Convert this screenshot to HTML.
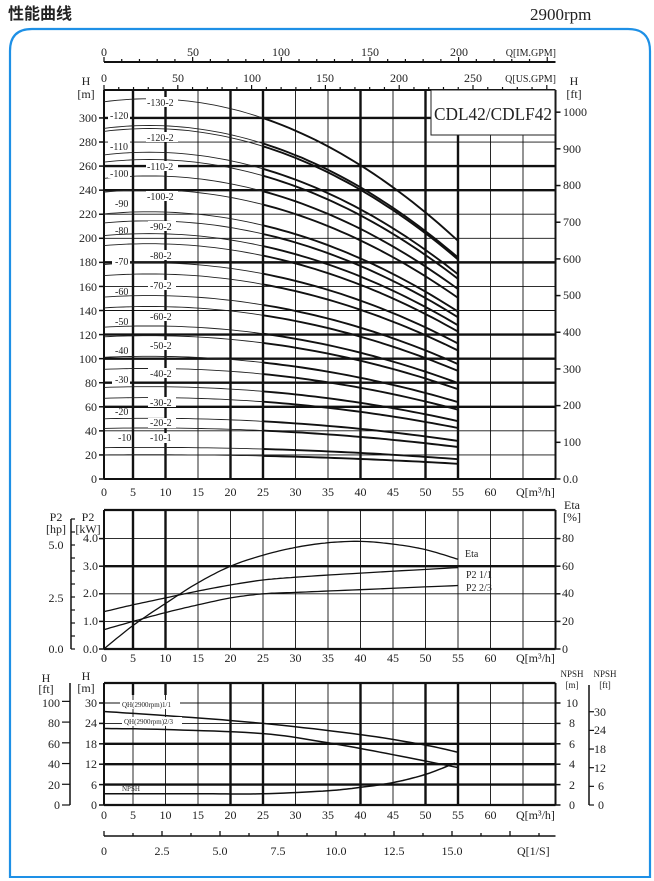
<!DOCTYPE html>
<html><head><meta charset="utf-8"><style>
html,body{margin:0;padding:0;background:#fff;width:654px;height:881px;overflow:hidden}
svg{display:block}
text{font-family:"Liberation Serif",serif;fill:#222}
</style></head><body>
<svg id="s" width="654" height="881" viewBox="0 0 654 881" xmlns="http://www.w3.org/2000/svg">
<path d="M10,878 L10,51 Q10,29 32,29 L628,29 Q650,29 650,51 L650,878" fill="none" stroke="#1e90e6" stroke-width="2.2"/>
<line x1="10" y1="877" x2="650" y2="877" stroke="#1e90e6" stroke-width="2"/>
<text x="8" y="19" style="font-family:'Noto Sans CJK SC',sans-serif;font-weight:bold;font-size:16px" fill="#111">性能曲线</text>
<text x="530" y="20" style="font-size:17px">2900rpm</text>
<g id="grid"></g>
<g id="curves"></g>
<g id="lbl" font-size="10">
<rect x="108" y="110" width="22" height="10" fill="#fff"/><text x="110" y="119">-120</text>
<rect x="108" y="141" width="22" height="10" fill="#fff"/><text x="110" y="150">-110</text>
<rect x="108" y="168" width="22" height="10" fill="#fff"/><text x="110" y="177">-100</text>
<text x="115" y="207">-90</text><text x="115" y="234">-80</text>
<rect x="112" y="256" width="18" height="10" fill="#fff"/><text x="115" y="265">-70</text>
<text x="115" y="295">-60</text><text x="115" y="325">-50</text><text x="115" y="354">-40</text>
<rect x="112" y="375" width="18" height="10" fill="#fff"/><text x="115" y="383">-30</text>
<text x="115" y="415">-20</text><text x="118" y="441">-10</text>
<rect x="146" y="97" width="32" height="10" fill="#fff"/><text x="147" y="106">-130-2</text>
<rect x="146" y="132" width="32" height="10" fill="#fff"/><text x="147" y="141">-120-2</text>
<rect x="146" y="161" width="32" height="10" fill="#fff"/><text x="147" y="170">-110-2</text>
<rect x="146" y="191" width="32" height="10" fill="#fff"/><text x="147" y="200">-100-2</text>
<rect x="148" y="221" width="28" height="10" fill="#fff"/><text x="150" y="230">-90-2</text>
<rect x="148" y="250" width="28" height="10" fill="#fff"/><text x="150" y="259">-80-2</text>
<rect x="148" y="280" width="28" height="10" fill="#fff"/><text x="150" y="289">-70-2</text>
<rect x="148" y="311" width="28" height="10" fill="#fff"/><text x="150" y="320">-60-2</text>
<rect x="148" y="340" width="28" height="10" fill="#fff"/><text x="150" y="349">-50-2</text>
<rect x="148" y="368" width="28" height="10" fill="#fff"/><text x="150" y="377">-40-2</text>
<rect x="148" y="397" width="28" height="10" fill="#fff"/><text x="150" y="406">-30-2</text>
<rect x="148" y="418" width="28" height="10" fill="#fff"/><text x="150" y="426">-20-2</text>
<rect x="148" y="433" width="28" height="10" fill="#fff"/><text x="150" y="441">-10-1</text>
</g>
<rect x="431" y="90" width="124" height="45" fill="#fff" stroke="#222" stroke-width="1"/>
<text x="434" y="120" style="font-size:18px" textLength="118" lengthAdjust="spacingAndGlyphs">CDL42/CDLF42</text>
<g font-size="12">
<text x="104" y="56" text-anchor="middle">0</text><text x="193" y="56" text-anchor="middle">50</text><text x="281" y="56" text-anchor="middle">100</text><text x="370" y="56" text-anchor="middle">150</text><text x="459" y="56" text-anchor="middle">200</text>
<text x="556" y="56" text-anchor="end" font-size="10">Q[IM.GPM]</text>
<text x="104" y="82" text-anchor="middle">0</text><text x="178" y="82" text-anchor="middle">50</text><text x="252" y="82" text-anchor="middle">100</text><text x="325" y="82" text-anchor="middle">150</text><text x="399" y="82" text-anchor="middle">200</text><text x="473" y="82" text-anchor="middle">250</text>
<text x="556" y="82" text-anchor="end" font-size="10">Q[US.GPM]</text>
<text x="86" y="85" text-anchor="middle">H</text><text x="86" y="98" text-anchor="middle">[m]</text>
<text x="574" y="85" text-anchor="middle">H</text><text x="574" y="98" text-anchor="middle">[ft]</text>
<g text-anchor="end">
<text x="97" y="483">0</text><text x="97" y="459">20</text><text x="97" y="435">40</text><text x="97" y="411">60</text><text x="97" y="387">80</text><text x="97" y="363">100</text><text x="97" y="339">120</text><text x="97" y="315">140</text><text x="97" y="291">160</text><text x="97" y="266">180</text><text x="97" y="242">200</text><text x="97" y="218">220</text><text x="97" y="194">240</text><text x="97" y="170">260</text><text x="97" y="146">280</text><text x="97" y="122">300</text>
</g>
<text x="563" y="483">0.0</text><text x="563" y="446">100</text><text x="563" y="409">200</text><text x="563" y="373">300</text><text x="563" y="336">400</text><text x="563" y="299">500</text><text x="563" y="263">600</text><text x="563" y="226">700</text><text x="563" y="189">800</text><text x="563" y="153">900</text><text x="563" y="116">1000</text>
<g id="xl1" text-anchor="middle"></g>
<text x="516" y="496">Q[m³/h]</text>
<text x="516" y="662">Q[m³/h]</text>
<text x="516" y="819">Q[m³/h]</text>
<text x="56" y="521" text-anchor="middle">P2</text><text x="56" y="533" text-anchor="middle">[hp]</text>
<text x="88" y="521" text-anchor="middle">P2</text><text x="88" y="533" text-anchor="middle">[kW]</text>
<text x="56" y="549" text-anchor="middle">5.0</text><text x="56" y="602" text-anchor="middle">2.5</text><text x="56" y="653" text-anchor="middle">0.0</text>
<g text-anchor="end"><text x="98" y="542">4.0</text><text x="98" y="570">3.0</text><text x="98" y="597">2.0</text><text x="98" y="625">1.0</text><text x="98" y="653">0.0</text></g>
<text x="572" y="509" text-anchor="middle">Eta</text><text x="572" y="521" text-anchor="middle">[%]</text>
<text x="562" y="542">80</text><text x="562" y="570">60</text><text x="562" y="597">40</text><text x="562" y="625">20</text><text x="562" y="653">0</text>
<text x="465" y="557" font-size="10">Eta</text>
<text x="466" y="578" font-size="10">P2    1/1</text>
<text x="466" y="591" font-size="10">P2    2/3</text>
<text x="46" y="682" text-anchor="middle">H</text><text x="46" y="693" text-anchor="middle">[ft]</text>
<text x="86" y="680" text-anchor="middle">H</text><text x="86" y="692" text-anchor="middle">[m]</text>
<g text-anchor="end"><text x="60" y="707">100</text><text x="60" y="727">80</text><text x="60" y="748">60</text><text x="60" y="768">40</text><text x="60" y="789">20</text><text x="60" y="809">0</text>
<text x="97" y="707">30</text><text x="97" y="727">24</text><text x="97" y="748">18</text><text x="97" y="768">12</text><text x="97" y="789">6</text><text x="97" y="809">0</text></g>
<text x="572" y="677" text-anchor="middle" font-size="9">NPSH</text><text x="572" y="688" text-anchor="middle" font-size="9">[m]</text>
<text x="605" y="677" text-anchor="middle" font-size="9">NPSH</text><text x="605" y="688" text-anchor="middle" font-size="9">[ft]</text>
<g text-anchor="middle"><text x="572" y="707">10</text><text x="572" y="727">8</text><text x="572" y="748">6</text><text x="572" y="768">4</text><text x="572" y="789">2</text><text x="572" y="809">0</text></g>
<text x="594" y="716">30</text><text x="594" y="734">24</text><text x="594" y="753">18</text><text x="594" y="772">12</text><text x="598" y="790">6</text><text x="598" y="809">0</text>
<rect x="120" y="700" width="60" height="9" fill="#fff"/><text x="122" y="707" font-size="7">QH(2900rpm)1/1</text>
<rect x="122" y="717" width="60" height="9" fill="#fff"/><text x="124" y="724" font-size="7">QH(2900rpm)2/3</text>
<text x="122" y="791" font-size="7">NPSH</text>
<g text-anchor="middle"><text x="104" y="855">0</text><text x="162" y="855">2.5</text><text x="220" y="855">5.0</text><text x="278" y="855">7.5</text><text x="336" y="855">10.0</text><text x="394" y="855">12.5</text><text x="452" y="855">15.0</text></g>
<text x="517" y="855">Q[1/S]</text>
</g>
</svg>
<script>
(function(){
var NS="http://www.w3.org/2000/svg";
function X(q){return Math.max(104,100.5+q*6.5);}
function el(parent,tag,attrs){var e=document.createElementNS(NS,tag);for(var k in attrs)e.setAttribute(k,attrs[k]);parent.appendChild(e);return e;}
var g=document.getElementById('grid'),c=document.getElementById('curves');
function L(x1,y1,x2,y2,w){el(g,'line',{x1:x1,y1:y1,x2:x2,y2:y2,stroke:'#111','stroke-width':w||0.9});}
var T=90,B=479,R=555.5;
function Yt(h){return 479-h*1.2035;}
var i,q,h,k,x,y,ft;
for(h=20;h<=300;h+=20){L(104,Yt(h),R,Yt(h),[60,80,100,120,180,240,260,300].indexOf(h)>=0?2.4:0.9);}
for(q=5;q<=65;q+=5){L(X(q),T,X(q),B,[5,10,20,25,40,50,55].indexOf(q)>=0?2.4:0.9);}
L(104,T,R,T,2);L(104,B,R,B,2);L(104,T,104,B,2);L(R,T,R,B,2);
for(h=0;h<=300;h+=20)L(99,Yt(h),104,Yt(h),1.5);
for(ft=0;ft<=1000;ft+=100){y=479-ft*0.3048*1.2035;L(R,y,R+5,y,1.5);}
L(104,62,R,62,2);
for(i=0;i<=25;i++){x=104+i*10*1.773;if(x<=R)L(x,62,x,i%5==0?57:59,1.2);}
for(i=0;i<=30;i++){x=104+i*10*1.476;if(x<=R)L(x,90,x,i%5==0?85:87,1.2);}
L(104,836,R,836,1.5);
for(i=0;i<=19;i++){x=104+i*1.25*23.2;if(x<=R)L(x,836,x,i%2==0?831:833,1.3);}
function fq(q){return 1+0.0025*q-0.000167*q*q;}
var H0=[313,291,288.5,269,263,249.5,238,220,212.5,202,193.7,178,168.8,151,142,126,118,101,91,76,67,50,42,26,20];
H0.forEach(function(h0){
 var d1='',d2='',qq;
 for(qq=0.5;qq<=25.01;qq+=1){d1+=(qq==0.5?'M':'L')+X(qq).toFixed(1)+','+Yt(h0*fq(qq)).toFixed(1);}
 d1+='L'+X(25).toFixed(1)+','+Yt(h0*fq(25)).toFixed(1);
 for(qq=25;qq<=55.01;qq+=1){d2+=(qq==25?'M':'L')+X(qq).toFixed(1)+','+Yt(h0*fq(qq)).toFixed(1);}
 el(c,'path',{d:d1,fill:'none',stroke:'#222','stroke-width':0.9});
 el(c,'path',{d:d2,fill:'none',stroke:'#111','stroke-width':1.9});
});
var MT=510,MB=649;function Ym(k){return 649-k*27.6;}
for(k=1;k<=4;k++)L(104,Ym(k),R,Ym(k),k==3?2.4:0.9);
for(q=5;q<=65;q+=5){L(X(q),MT,X(q),MB,[5,10].indexOf(q)>=0?2.4:0.9);}
L(104,MT,R,MT,2.2);L(104,MB,R,MB,2.2);L(104,MT,104,MB,2);L(R,MT,R,MB,2);
for(k=0;k<=4;k++){L(99,Ym(k),104,Ym(k),1.5);L(R,Ym(k),R+5,Ym(k),1.5);}
L(71,519,71,649,1.5);for(y=649;y>=519;y-=13)L(71,y,75,y,1.2);
function poly(pts,fn,w){var d='';pts.forEach(function(p,j){d+=(j?'L':'M')+X(p[0]).toFixed(1)+','+fn(p[1]).toFixed(1);});el(c,'path',{d:d,fill:'none',stroke:'#111','stroke-width':w,'stroke-linejoin':'round'});}
function cr(a,b,c2,d,t){var t2=t*t,t3=t2*t;return 0.5*((2*b)+(-a+c2)*t+(2*a-5*b+4*c2-d)*t2+(-a+3*b-3*c2+d)*t3);}
function smooth(pts){var out=[];for(var j=0;j<pts.length-1;j++){var p0=pts[Math.max(0,j-1)],p1=pts[j],p2=pts[j+1],p3=pts[Math.min(pts.length-1,j+2)];for(var t=0;t<0.999;t+=0.1){out.push([cr(p0[0],p1[0],p2[0],p3[0],t),cr(p0[1],p1[1],p2[1],p3[1],t)]);}}out.push(pts[pts.length-1]);return out;}
poly(smooth([[0.5,0],[5,0.85],[10,1.65],[15,2.4],[20,3.0],[25,3.4],[30,3.68],[35,3.85],[40,3.9],[45,3.8],[50,3.6],[55,3.25]]),Ym,1.3);
poly(smooth([[0.5,1.35],[5,1.6],[10,1.85],[15,2.1],[20,2.32],[25,2.5],[30,2.6],[40,2.75],[55,2.95]]),Ym,1.3);
poly(smooth([[0.5,0.7],[5,1.0],[10,1.32],[15,1.6],[20,1.85],[25,2.0],[30,2.05],[40,2.15],[55,2.3]]),Ym,1.3);
var BT=683,BB=805;function Yb(h){return 805-h*3.4;}
for(h=6;h<=30;h+=6)L(104,Yb(h),R,Yb(h),[6,12,18].indexOf(h)>=0?2.4:0.9);
for(q=5;q<=65;q+=5){L(X(q),BT,X(q),BB,[20,25,40,50,55].indexOf(q)>=0?2.4:0.9);}
L(X(5),BT,X(5),BT+12,2.4);L(X(10),BT,X(10),BT+12,2.4);
L(104,BT,R,BT,2.2);L(104,BB,R,BB,2.2);L(104,BT,104,BB,2);L(R,BT,R,BB,2);
for(h=0;h<=30;h+=6){L(99,Yb(h),104,Yb(h),1.5);L(R,Yb(h),R+5,Yb(h),1.5);}
L(70,683,70,805,1.5);for(ft=0;ft<=100;ft+=20){y=805-ft*0.3048*3.4;L(62,y,70,y,1.2);}
L(589,685,589,805,1.5);for(ft=0;ft<=30;ft+=6){y=805-ft*0.3048*10.2;L(589,y,594,y,1.2);}
poly(smooth([[0.5,27.5],[10,26.3],[25,24],[40,20.7],[50,17.6],[55,15.5]]),Yb,1.5);
poly(smooth([[0.5,22.5],[10,22.2],[25,21],[35,18.3],[45,14.8],[55,11]]),Yb,1.5);
poly(smooth([[0.5,3.3],[15,3.3],[25,3.3],[35,4.2],[40,5.2],[45,6.6],[50,9],[54.5,12.3]]),Yb,1.5);
var xl=['0','5','10','15','20','25','30','35','40','45','50','55','60'];
var gx=document.getElementById('xl1');
[496,662,819].forEach(function(yy){xl.forEach(function(t,j){var e=el(gx,'text',{x:X(j*5),y:yy});e.textContent=t;});});
})();
</script>
</body></html>
